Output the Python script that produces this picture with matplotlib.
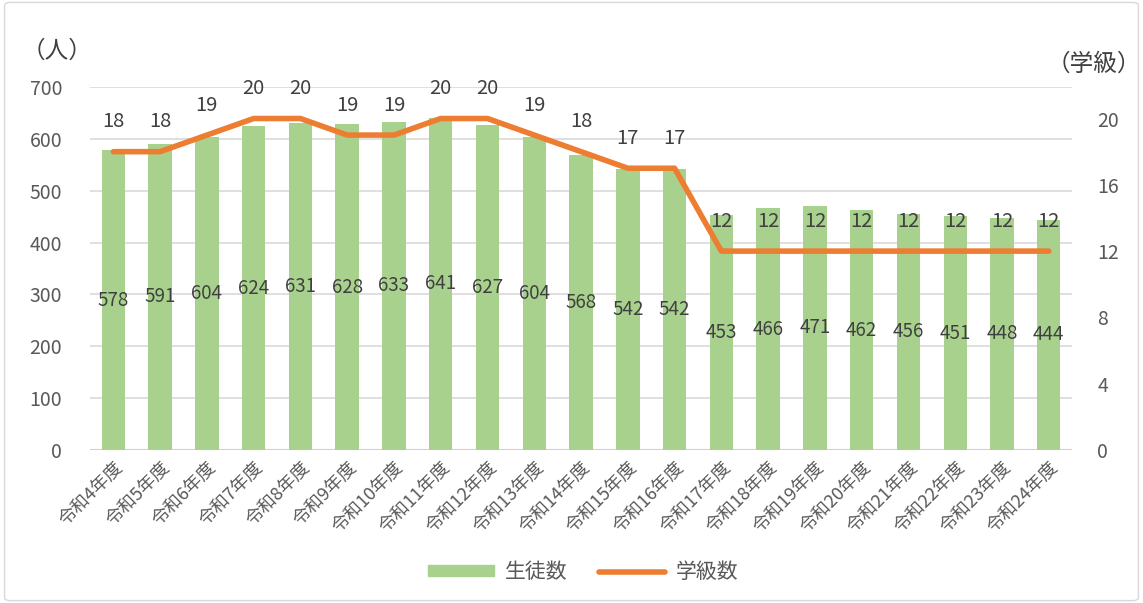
import matplotlib.pyplot as plt
from matplotlib.patches import FancyBboxPatch
from matplotlib.lines import Line2D
from matplotlib.patches import Patch

plt.rcParams['font.family'] = ['Noto Sans CJK JP', 'DejaVu Sans']

years = ["令和4年度", "令和5年度", "令和6年度", "令和7年度", "令和8年度", "令和9年度",
         "令和10年度", "令和11年度", "令和12年度", "令和13年度", "令和14年度",
         "令和15年度", "令和16年度", "令和17年度", "令和18年度", "令和19年度",
         "令和20年度", "令和21年度", "令和22年度", "令和23年度", "令和24年度"]
students = [578, 591, 604, 624, 631, 628, 633, 641, 627, 604, 568,
            542, 542, 453, 466, 471, 462, 456, 451, 448, 444]
classes = [18, 18, 19, 20, 20, 19, 19, 20, 20, 19, 18,
           17, 17, 12, 12, 12, 12, 12, 12, 12, 12]

GREEN = "#a9d18e"
ORANGE = "#ed7d31"
GRAY = "#595959"

fig = plt.figure(figsize=(11.43, 6.03), dpi=100)
ax = fig.add_axes([0.0787, 0.2537, 0.8593, 0.602])
ax2 = ax.twinx()

x = list(range(len(years)))
ax.bar(x, students, width=0.5, color=GREEN, zorder=2)
ax.set_ylim(0, 700)
ax.set_xlim(-0.5, len(years) - 0.5)
ax.set_yticks(range(0, 701, 100))
ax.grid(axis="y", color="#d9d9d9", linewidth=1.2, zorder=0)
ax.set_axisbelow(True)
for s in ax.spines.values():
    s.set_visible(False)
for s in ax2.spines.values():
    s.set_visible(False)
ax.axhline(0, color="#d0d0d0", linewidth=1.5, zorder=1)
ax.tick_params(axis="y", length=0, labelsize=14, labelcolor=GRAY, pad=20)
ax.tick_params(axis="x", length=0, labelsize=13, labelcolor=GRAY, pad=6)
ax.set_xticks(x)
ax.set_xticklabels(years, rotation=45, ha="right", rotation_mode="anchor")

# 生徒数ラベルは棒の中央に
for xi, v in zip(x, students):
    ax.text(xi, v / 2, str(v), ha="center", va="center", fontsize=13.5, color="#404040", zorder=4)

ax2.plot(x, classes, color=ORANGE, linewidth=4, solid_capstyle="round", zorder=3)
ax2.set_ylim(0, 21.9)
ax2.set_yticks(range(0, 21, 4))
ax2.tick_params(axis="y", length=0, labelsize=14, labelcolor=GRAY, pad=18)
for xi, v in zip(x, classes):
    ax2.annotate(str(v), (xi, v), xytext=(0, 21.5), textcoords="offset points",
                 ha="center", va="center", fontsize=14.5, color="#404040")

fig.text(0.019, 0.915, "（人）", fontsize=17, color="#404040", va="center")
fig.text(0.998, 0.893, "（学級）", fontsize=17, color="#404040", va="center", ha="right")

handles = [Patch(color=GREEN, label="生徒数"),
           Line2D([0], [0], color=ORANGE, linewidth=4, solid_capstyle="round", label="学級数")]
fig.legend(handles=handles, loc="center", bbox_to_anchor=(0.51, 0.051), ncol=2,
           frameon=False, fontsize=15, labelcolor=GRAY, handlelength=3.2,
           handleheight=0.45, columnspacing=1.5, handletextpad=0.5)

frame = FancyBboxPatch((0.004, 0.004), 0.992, 0.992, boxstyle="round,pad=0,rounding_size=0.005",
                       transform=fig.transFigure, fill=False, edgecolor="#d9d9d9", linewidth=1)
fig.patches.append(frame)

fig.savefig("out.png", dpi=100)
